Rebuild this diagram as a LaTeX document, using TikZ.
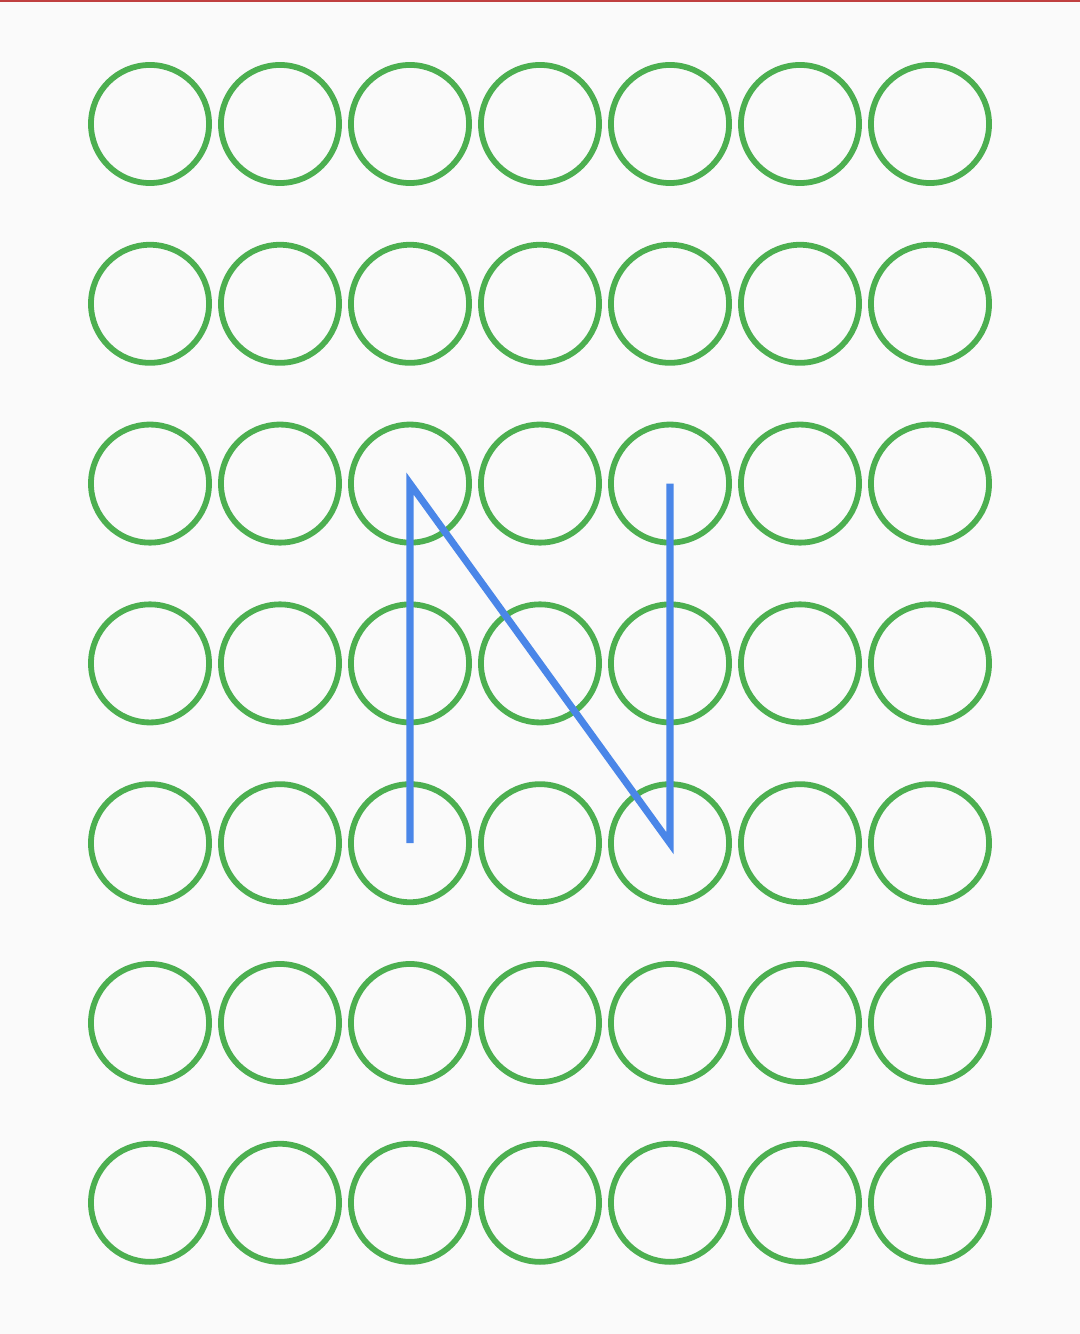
\documentclass[tikz,border=0pt]{standalone}
\usepackage{tikz}
\definecolor{dotgreen}{HTML}{4CAF50}
\definecolor{pathblue}{HTML}{4A86E8}
\definecolor{bgpaper}{HTML}{FAFAFA}
\definecolor{edgered}{HTML}{C04040}
\begin{document}
\begin{tikzpicture}[x=0.01cm, y=-0.01cm,
  dot/.style={draw=dotgreen, circle, line width=1.65pt, minimum size=1.18cm, inner sep=0pt},
  swipe/.style={draw=pathblue, line width=2pt, miter limit=20}]
\fill[bgpaper] (0,0) rectangle (1080,1334);
\useasboundingbox (0,0) rectangle (1080,1334);
\coordinate (tl) at (0,1);
\coordinate (tr) at (1080,1);
\draw[edgered, line width=0.6pt] (tl) -- (tr);
% 7x7 grid of dots
\foreach \i in {1,...,7} {
  \foreach \j in {1,...,7} {
    \node[dot] (c-\i-\j) at ({20+130*\i}, {124+179.8*(\j-1)}) {};
  }
}
\draw[swipe] (c-3-5.center) -- (c-3-3.center) -- (c-5-5.center) -- (c-5-3.center);
\end{tikzpicture}
\end{document}
